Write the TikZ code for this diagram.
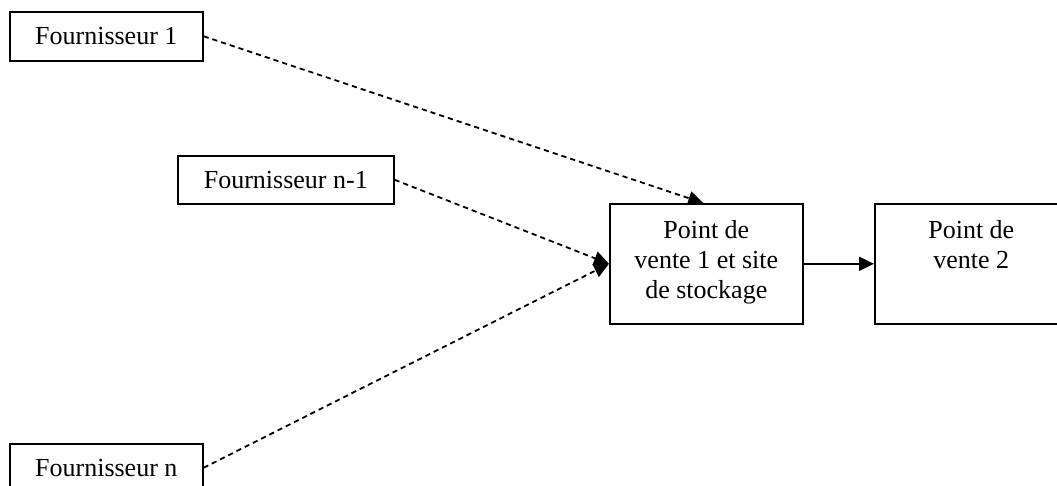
\documentclass[tikz,border=0pt]{standalone}
\usepackage{fontspec}
\setmainfont{Liberation Serif}
\usetikzlibrary{positioning,calc,arrows.meta}
\tikzset{
  site box/.style={
    draw=black, line width=0.8pt, inner sep=0pt,
    anchor=north west,
    font=\fontsize{13}{15}\selectfont,
  },
  site text/.style={
    align=center, inner sep=0pt, anchor=north,
    font=\fontsize{13}{15}\selectfont,
  },
  supply arrow/.style={
    -{Triangle[length=7.5pt, width=7pt]},
    line width=0.9pt, dash pattern=on 2.6pt off 2pt,
  },
  flow arrow/.style={
    -{Triangle[length=7.5pt, width=7pt]},
    line width=0.9pt,
  },
}

\begin{document}
\begin{tikzpicture}[x=0.5pt, y=-0.5pt]

\useasboundingbox (0,0) rectangle (1057,486);

% --- SUPPLIERS ---
\node[site box, minimum width=96.5pt, minimum height=24.5pt]
  (four1) at (9, 11) {Fournisseur 1};
\node[site box, minimum width=108pt, minimum height=24pt]
  (fourN1) at (177, 155) {Fournisseur n-1};
\node[site box, minimum width=96.5pt, minimum height=24pt]
  (fourN) at (9, 443) {Fournisseur n};

% --- SALES POINTS ---
\node[site box, minimum width=96.5pt, minimum height=60pt]
  (pv1) at (609, 203) {};
\node[site text, yshift=-8.6pt]
  (pv1text) at (pv1.north) {Point de\\vente 1 et site\\de stockage};
\node[site box, minimum width=96.5pt, minimum height=60pt]
  (pv2) at (874, 203) {};
\node[site text, yshift=-8.6pt]
  (pv2text) at (pv2.north) {Point de\\vente 2};

% --- DELIVERIES ---
\draw[supply arrow] (four1.east) -- ($(pv1.north)+(-3,0)$);
\draw[supply arrow] (fourN1.east) -- (pv1.west);
\draw[supply arrow] (fourN.east) -- (pv1.west);

% --- TRANSFER ---
\draw[flow arrow] (pv1.east) -- (pv2.west);

\end{tikzpicture}
\end{document}
